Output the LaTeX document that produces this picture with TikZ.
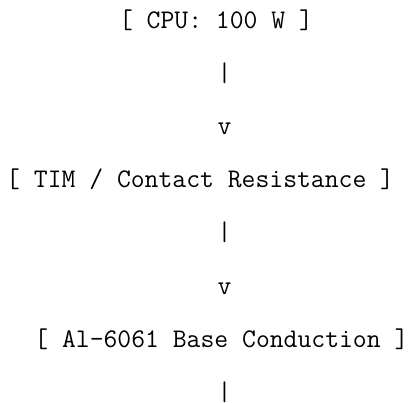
\documentclass[tikz,border=0pt]{standalone}
\usepackage{fontspec}
\usepackage{tikz}
\newcommand{\colw}{14.1}
\newcommand{\rowh}{53.2}

\begin{document}
\begin{tikzpicture}[x=1pt, y=1pt,
    mono/.style={anchor=base west, inner sep=0pt, font=\fontsize{26.9}{30}\selectfont\ttfamily}]

    \useasboundingbox (0,0) rectangle (409,-402);

    % Stages
    \node[mono] (cpu)  at (6+8*\colw, -28) {[ CPU: 100 W ]};
    \node[mono] (tim)  at (6, -28-3*\rowh) {[ TIM / Contact Resistance ]};
    \node[mono] (base) at (6+2*\colw, -28-6*\rowh) {[ Al-6061 Base Conduction ]};

    % Text arrows between stages
    \node[mono] (bar1) at (6+15*\colw, -28-1*\rowh) {|};
    \node[mono] (tip1) at (6+15*\colw, -28-2*\rowh) {v};
    \node[mono] (bar2) at (6+15*\colw, -28-4*\rowh) {|};
    \node[mono] (tip2) at (6+15*\colw, -28-5*\rowh) {v};
    \node[mono] (bar3) at (6+15*\colw, -28-7*\rowh) {|};

\end{tikzpicture}
\end{document}
